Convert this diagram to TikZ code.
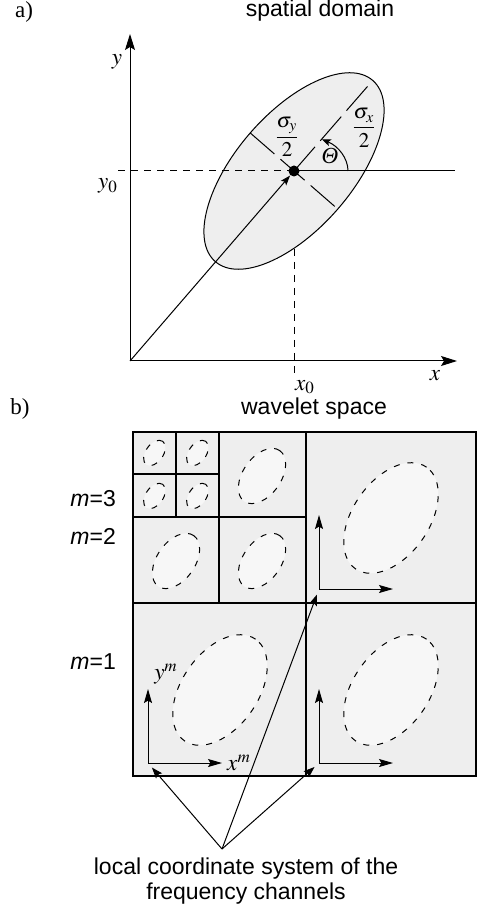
\documentclass[tikz,border=0pt]{standalone}
\usepackage{mathptmx}
\usepackage[no-math]{fontspec}
\setmainfont{Liberation Serif}
\setsansfont{Liberation Sans}
\usetikzlibrary{arrows.meta, positioning, calc}
\definecolor{PanelGray}{gray}{0.933}
\definecolor{BlobGray}{gray}{0.968}
\newcommand{\blob}[3]{% #1 = x, #2 = y, #3 = factor
  \draw[blobline, rotate around={55:(#1,#2)}] (#1,#2) ellipse [x radius=62*#3, y radius=38*#3];
}

\begin{document}
\begin{tikzpicture}[
    x=0.5pt, y=0.5pt, line width=0.5pt,
    font=\fontsize{11.5}{12.5}\selectfont,
    tit/.style={font=\fontsize{11.5}{12.5}\selectfont\sffamily},
    lbl/.style={font=\fontsize{11.5}{12.5}\selectfont, inner sep=0},
    frac/.style={font=\fontsize{10.5}{11.5}\selectfont, inner sep=0},
    axarrow/.style={-{Stealth[length=8pt, width=5pt, inset=1.5pt]}},
    locarrow/.style={-{Stealth[length=7pt, width=4pt, inset=1.2pt]}},
    ptr/.style={-{Stealth[length=5.5pt, width=4pt, inset=1pt]}, shorten >=3pt},
    dot/.style={circle, fill, inner sep=0, minimum size=5.5pt},
    longdash/.style={dash pattern=on 16pt off 4pt},
    blobline/.style={dash pattern=on 3pt off 4pt, fill=BlobGray},
]
\useasboundingbox (0,0) rectangle (477,-908);

% ===== a) spatial domain =====
\node[lbl] (ta) at (24,-12) {a)};
\node[tit] (tsd) at (320,-11) {spatial domain};

\coordinate (o) at (130,-361);
\coordinate (ytip) at (130,-34);
\coordinate (xtip) at (457,-361);
\coordinate (c) at (294,-171);
\coordinate (xfoot) at (294,-373);
\coordinate (yfoot) at (118,-171);
\coordinate (hend) at (455,-171);

\draw[dash pattern=on 3.5pt off 3pt] (c) -- (xfoot);
\draw[fill=PanelGray, rotate around={49:(c)}] (c) ellipse [x radius=120, y radius=58];
\node[dot] (cd) at (c) {};

\draw[axarrow] (o) -- (ytip);
\draw[axarrow] (o) -- (xtip);
\draw[dash pattern=on 3.5pt off 3pt] (yfoot) -- (c);
\draw (c) -- (hend);
\draw[longdash] (c) -- ($(c)+(49:120)$);
\draw[longdash] ($(c)+(139:58)$) -- ($(c)+(-41:58)$);
\draw[-{Stealth[length=5pt, width=3.5pt, inset=1pt]}] (o) -- (cd);
\draw[-{Stealth[length=4.5pt, width=3.5pt, inset=1pt]}] ($(c)+(54,0)$)
    arc[start angle=0, end angle=59, x radius=54, y radius=37];

\node[lbl] (ly) at (117,-62) {$y$};
\node[lbl] (lx) at (435,-376) {$x$};
\node[lbl] (ly0) at (108,-186) {$y_0$};
\node[lbl] (lx0) at (305,-387) {$x_0$};
\node[frac] (lsy) at (287,-137) {$\displaystyle\frac{\sigma_y}{2}$};
\node[frac] (lsx) at (364,-128) {$\displaystyle\frac{\sigma_x}{2}$};
\node[lbl] (lth) at (330,-156) {\itshape Θ};

% ===== b) wavelet space =====
\node[lbl] (tb) at (20,-409) {b)};
\node[tit] (tws) at (314,-409) {wavelet space};

\draw[fill=PanelGray, line width=1pt] (133,-432) rectangle (476,-776);
\draw[line width=0.6pt] (306,-432) -- (306,-776);
\draw[line width=0.6pt] (133,-603) -- (476,-603);
\draw[line width=0.6pt] (219,-432) -- (219,-603);
\draw[line width=0.6pt] (133,-517) -- (306,-517);
\draw[line width=0.6pt] (176,-432) -- (176,-517);
\draw[line width=0.6pt] (133,-474) -- (219,-474);

% ellipsen pro kanal
\foreach \x/\y in {391/518, 391/690, 220/690}{
    \blob{\x}{-\y}{1}
}
\foreach \x/\y in {176/561, 262/561, 262/476}{
    \blob{\x}{-\y}{0.5}
}
\foreach \x/\y in {154.5/453, 197.5/453, 154.5/496, 197.5/496}{
    \blob{\x}{-\y}{0.23}
}

% lokale koordinatensysteme
\foreach \x/\y [count=\i] in {319/589, 148/763, 319/763}{
    \coordinate (o\i) at (\x,-\y);
    \draw[locarrow] (o\i) -- ++(0,74);
    \draw[locarrow] (o\i) -- ++(74,0);
}
\node[lbl] (lym) at (166,-674) {$y^m$};
\node[lbl] (lxm) at (239,-763) {$x^m$};

\node[tit, anchor=east] (m3) at (123,-499) {\textit{m}=3};
\node[tit, anchor=east] (m2) at (123,-536) {\textit{m}=2};
\node[tit, anchor=east] (m1) at (123,-662) {\textit{m}=1};

% ===== hinweis =====
\coordinate (apex) at (222,-849);
\node[tit, anchor=north, align=center, inner sep=0] (note) at (246,-857)
    {local coordinate system of the\\frequency channels};
\foreach \i in {1,2,3}
    \draw[ptr] (apex) -- (o\i);

\end{tikzpicture}
\end{document}
